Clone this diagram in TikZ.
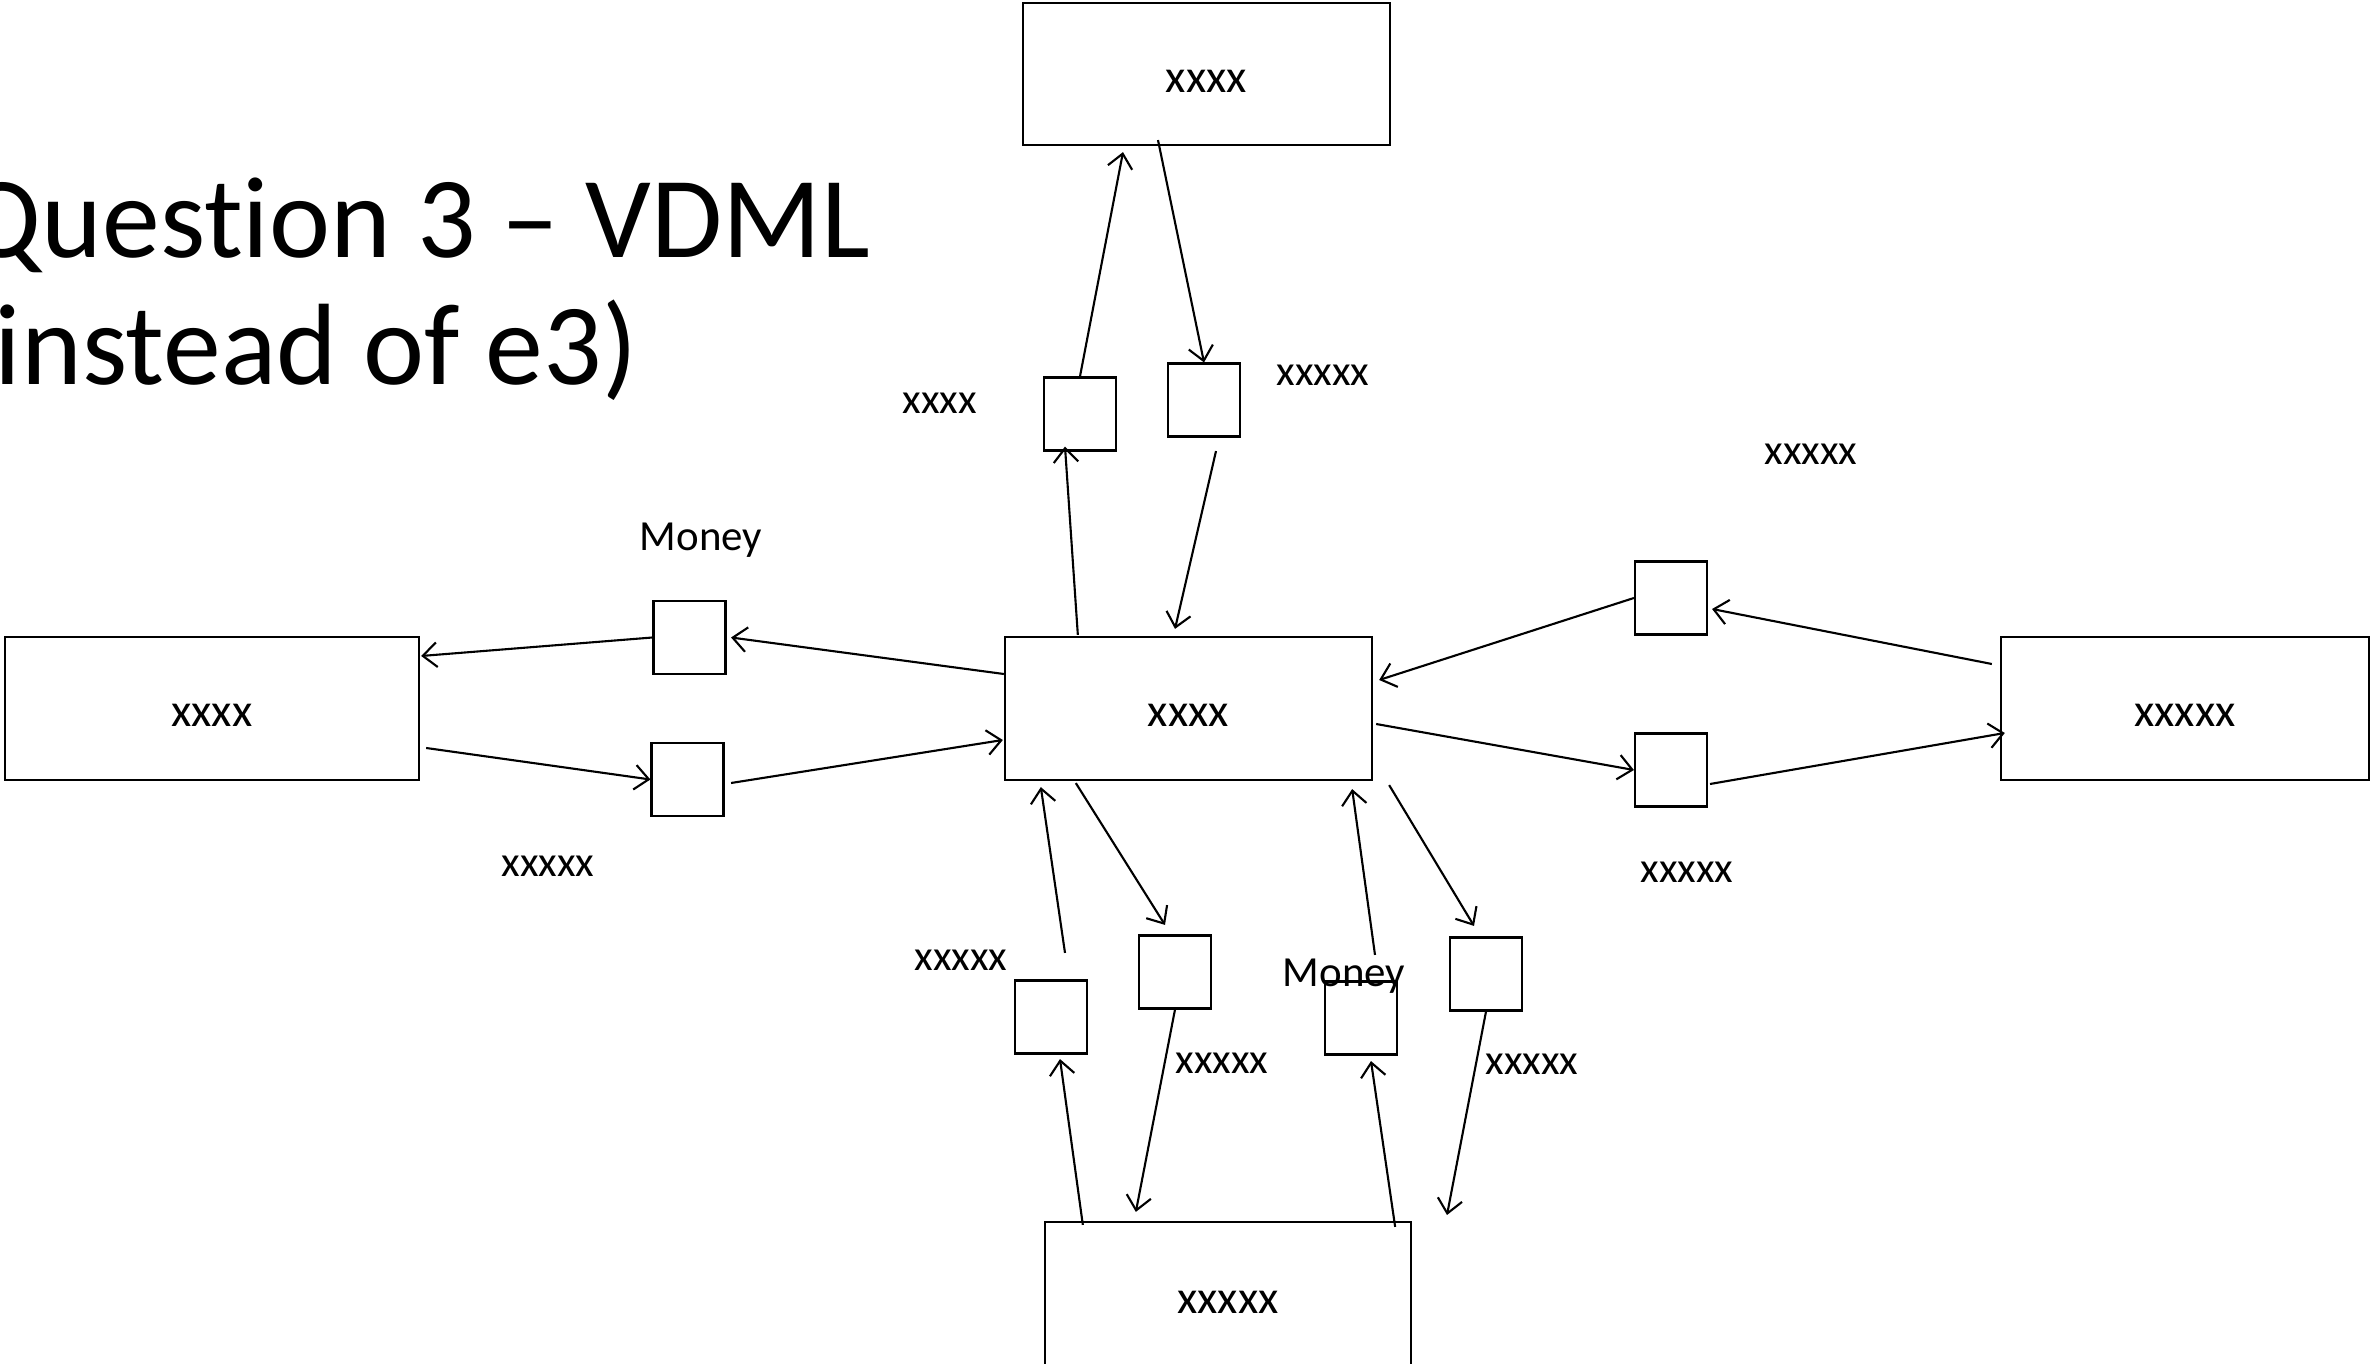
\documentclass[tikz,border=0pt]{standalone}
\usepackage{fontspec}
\setmainfont{Carlito}[Ligatures=NoCommon]
\usetikzlibrary{arrows.meta, positioning}

\tikzset{
  bigbox/.style={draw, line width=0.6pt, minimum width=3.67cm, minimum height=1.43cm, inner sep=0pt, text height=0.36cm, font=\fontsize{13.3}{16}\selectfont},
  smallbox/.style={draw, line width=0.6pt, minimum width=0.72cm, minimum height=0.73cm, inner sep=0pt},
  lbl/.style={inner sep=0pt, font=\fontsize{12.2}{15}\selectfont},
  flow/.style={->, line width=0.6pt},
}

\begin{document}
\begin{tikzpicture}[x=0.01cm, y=-0.01cm, >={Straight Barb[length=4pt,width=7pt]}]
    \useasboundingbox (0,0) rectangle (2374,1364);

    % title
    \node[anchor=base east, inner sep=0pt, font=\fontsize{32.9}{38}\selectfont] (title1) at (871,258) {Question 3 – VDML};
    \node[anchor=base east, inner sep=0pt, font=\fontsize{32.9}{38}\selectfont] (title2) at (638,385) {(instead of e3)};

    % main boxes
    \node[bigbox, minimum height=1.42cm] (top) at (1206.5,74) {xxxx};
    \node[bigbox] (cen) at (1188.5,708.5) {xxxx};
    \node[bigbox, minimum width=4.14cm] (lft) at (212,708.5) {xxxx};
    \node[bigbox, minimum width=3.68cm] (rgt) at (2185,708.5) {xxxxx};
    \node[bigbox, minimum width=3.66cm, minimum height=1.46cm] (bot) at (1228,1295) {xxxxx};

    % small boxes
    \node[smallbox] (sa) at (1080,414) {};
    \node[smallbox] (sb) at (1204,400) {};
    \node[smallbox] (sc) at (689.5,637.5) {};
    \node[smallbox] (sd) at (687.5,779.5) {};
    \node[smallbox] (se) at (1671,598) {};
    \node[smallbox] (sf) at (1671,770) {};
    \node[smallbox] (sg) at (1051,1017) {};
    \node[smallbox] (sh) at (1175,972) {};
    \node[smallbox] (si) at (1361,1018) {};
    \node[smallbox] (sj) at (1486,974) {};
    \coordinate (jend) at (1447,1215);

    % labels
    \node[lbl] (la) at (940,403) {xxxx};
    \node[lbl] (lb) at (1323,375) {xxxxx};
    \node[lbl] (lc) at (1811,454) {xxxxx};
    \node[lbl, anchor=base] (money1) at (701,551) {Money};
    \node[lbl] (ld) at (548,866) {xxxxx};
    \node[lbl] (lf) at (1687,872) {xxxxx};
    \node[lbl] (lg) at (961,960) {xxxxx};
    \node[lbl] (lh) at (1222,1063) {xxxxx};
    \node[lbl, anchor=base] (money2) at (1344,987) {Money};
    \node[lbl] (lj) at (1532,1064) {xxxxx};

    % top
    \draw[flow] (sa.north) -- ([shift={(-83.5,6)}]top.south);
    \draw[flow] ([shift={(-48.5,-6)}]top.south) -- (sb.north);
    \draw[flow] ([shift={(74,-1)}]cen.north west) -- ([shift={(-15,-5)}]sa.south);
    \draw[flow] ([shift={(12,13.5)}]sb.south) -- ([shift={(-13.5,-7)}]cen.north);
    % left
    \draw[flow] ([shift={(0,-34.5)}]cen.west) -- ([shift={(4.5,0)}]sc.east);
    \draw[flow] (sc.west) -- ([shift={(1,-52.5)}]lft.east);
    \draw[flow] ([shift={(6,39.5)}]lft.east) -- (sd.west);
    \draw[flow] ([shift={(6.5,3.5)}]sd.east) -- ([shift={(-1,31.5)}]cen.west);
    % right
    \draw[flow] ([shift={(3,15.5)}]cen.east) -- (sf.west);
    \draw[flow] ([shift={(2,14)}]sf.east) -- ([shift={(5,24.5)}]rgt.west);
    \draw[flow] ([shift={(-8,-44.5)}]rgt.west) -- ([shift={(4,11)}]se.east);
    \draw[flow] (se.west) -- ([shift={(6,-28.5)}]cen.east);
    % bottom
    \draw[flow] ([shift={(72,2)}]cen.south west) -- ([shift={(-10,-9.5)}]sh.north);
    \draw[flow] ([shift={(14,-26.5)}]sg.north) -- ([shift={(37,6)}]cen.south west);
    \draw[flow] ([shift={(39,4)}]bot.north west) -- ([shift={(9,4.5)}]sg.south);
    \draw[flow] (sh.south) -- ([shift={(92,-9)}]bot.north west);
    \draw[flow] ([shift={(14,-25.5)}]si.north) -- ([shift={(-21,8)}]cen.south east);
    \draw[flow] ([shift={(16,4)}]cen.south east) -- ([shift={(-12,-10.5)}]sj.north);
    \draw[flow] ([shift={(-17,6)}]bot.north east) -- ([shift={(10,5.5)}]si.south);
    \draw[flow] (sj.south) -- (jend);
\end{tikzpicture}
\end{document}
